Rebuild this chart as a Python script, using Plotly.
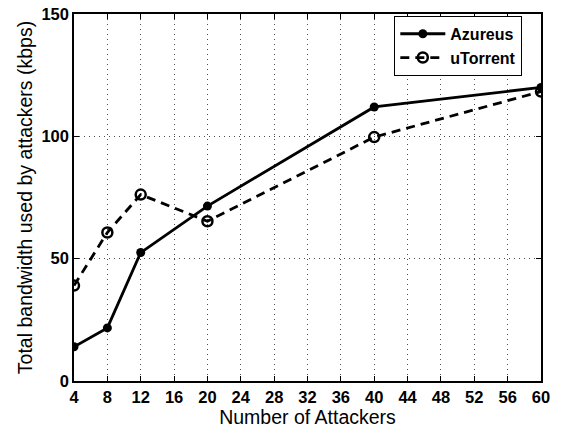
import plotly.graph_objects as go

attackers = [4, 8, 12, 20, 40, 60]
azureus = [14, 21.7, 52.5, 71.5, 112, 120]
utorrent = [39, 60.7, 76.2, 65.3, 99.7, 118.3]
x_ticks = list(range(4, 61, 4))
y_ticks = [0, 50, 100, 150]

fig = go.Figure()
fig.add_trace(go.Scatter(
    x=attackers, y=azureus, name="Azureus", mode="lines+markers",
    line=dict(color="black", width=2.8),
    marker=dict(symbol="circle", size=9, color="black"),
))
fig.add_trace(go.Scatter(
    x=attackers, y=utorrent, name="uTorrent", mode="lines+markers",
    line=dict(color="black", width=2.8, dash="9px,6px"),
    marker=dict(symbol="circle-open", size=10, color="black", line=dict(width=2.5)),
))

axis_common = dict(
    showline=True, linecolor="black", linewidth=1.5, mirror="allticks",
    ticks="inside", ticklen=5, tickcolor="black",
    showgrid=True, gridcolor="rgba(0,0,0,0.7)", griddash="1px,4px", gridwidth=1,
    zeroline=False, automargin=False,
    tickfont=dict(family="Liberation Sans, Arial", size=16.5, color="black", weight="bold"),
    title_font=dict(family="Liberation Sans, Arial", size=19.5, color="black"),
)

fig.update_layout(
    width=562, height=428,
    margin=dict(l=74, r=21, t=14, b=47),
    paper_bgcolor="white", plot_bgcolor="white",
    xaxis=dict(range=[4, 60], tickvals=x_ticks, title=dict(text="Number of Attackers", standoff=0), **axis_common),
    yaxis=dict(range=[0, 150], tickvals=y_ticks, title=dict(text="Total bandwidth used by attackers (kbps)", standoff=4), **axis_common),
    legend=dict(
        x=0.96, y=0.995, xanchor="right", yanchor="top",
        bordercolor="black", borderwidth=1, bgcolor="white",
        font=dict(family="Liberation Sans, Arial", size=16, color="black", weight="bold"),
        tracegroupgap=0, itemwidth=45,
    ),
    showlegend=True,
)

fig.write_html("out.html")
